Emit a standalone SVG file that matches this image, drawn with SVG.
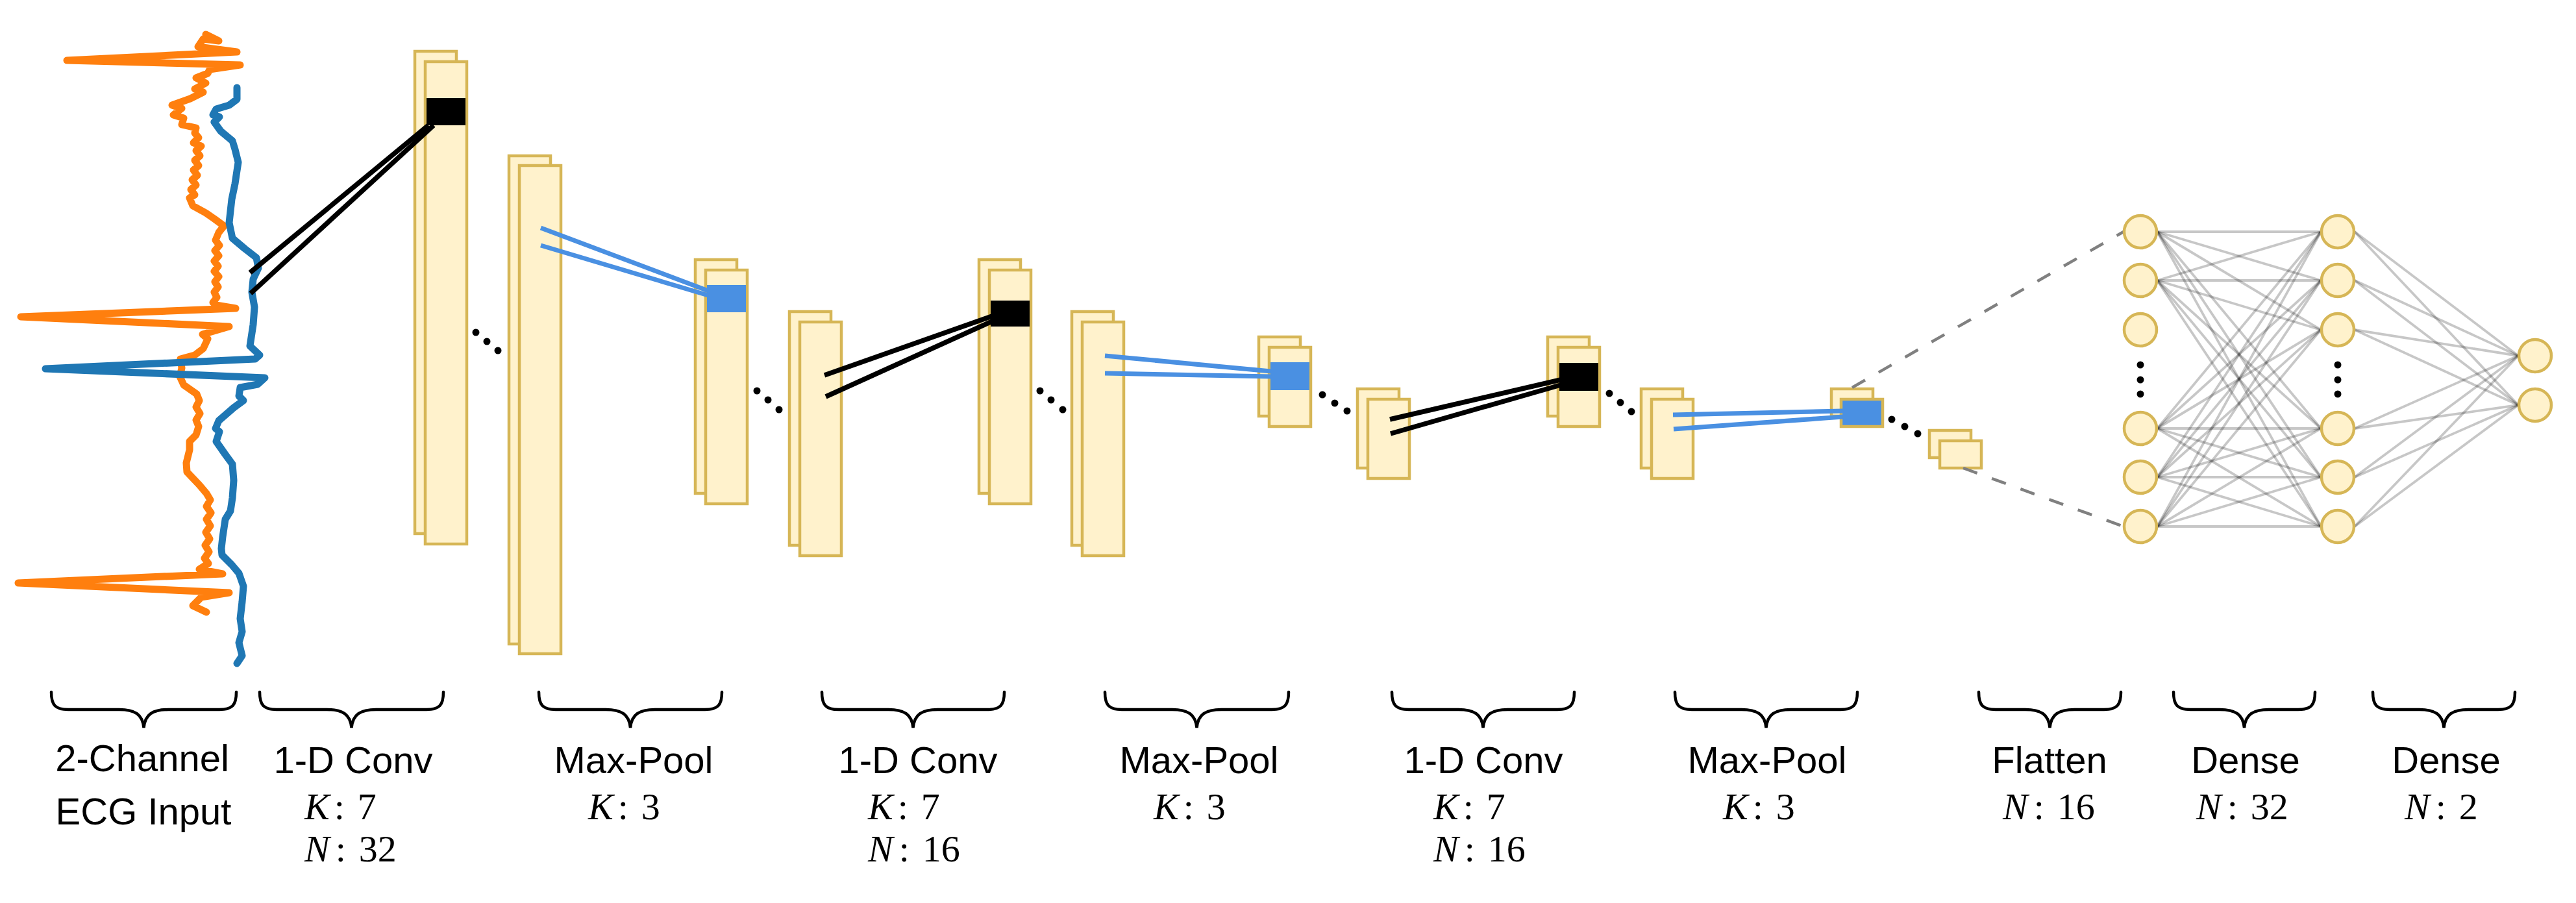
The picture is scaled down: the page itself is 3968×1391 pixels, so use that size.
<svg xmlns="http://www.w3.org/2000/svg" width="3968" height="1391" viewBox="0 0 3968 1391">
<style>
.fm{fill:#FFF2CC;stroke:#D6B656;stroke-width:4.5}
.blk{fill:#000}
.blu{fill:#4A90E2}
.fb{fill:#4A90E2;stroke:#D6B656;stroke-width:4.5}
.cb{stroke:#000;stroke-width:7.5;fill:none}
.cu{stroke:#4A90E2;stroke-width:7;fill:none}
.nn line{stroke:#000;stroke-opacity:0.22;stroke-width:3.8}
.dash{stroke:#808080;stroke-width:4.5;stroke-dasharray:23 24;fill:none}
.dot{fill:#000}
.nd{fill:#FFF2CC;stroke:#D6B656;stroke-width:4.5}
.br{fill:none;stroke:#000;stroke-width:4.5;stroke-linecap:round}
.sans{font-family:"Liberation Sans",Arial,sans-serif;font-size:58px;fill:#000}
.ser{font-family:"Liberation Serif","Times New Roman",serif;font-size:58px;fill:#000}
.it{font-style:italic}
.ecg{fill:none;stroke-width:11;stroke-linejoin:round;stroke-linecap:round}
</style>
<rect width="3968" height="1391" fill="#fff"/>
<g id="ecg-input">
<polyline class="ecg" stroke="#FF7F0E" points="317,53 337,63 313,60 305,72 365,80 103,93 370,100 323,107 320,113 302,120 317,128 300,137 313,142 293,152 265,162 280,167 267,177 283,182 280,192 302,197 300,205 306,212 298,220 310,225 302,232 308,240 300,247 306,255 298,262 304,270 296,277 302,285 294,292 300,300 292,305 297,317 317,328 330,337 345,348 337,358 332,370 338,378 331,386 337,394 330,402 336,410 330,418 337,426 331,434 336,442 330,450 334,458 328,466 333,470 363,475 32,488 353,503 312,515 320,522 313,537 300,547 278,553 280,567 277,580 283,593 303,607 307,617 302,627 308,637 302,647 306,657 302,670 292,680 292,693 287,713 288,727 307,747 318,760 324,770 318,780 325,790 318,800 324,810 317,820 323,830 316,840 322,850 315,860 321,868 307,877 343,884 28,898 353,913 310,920 297,933 318,943"/>
<polyline class="ecg" stroke="#1F77B4" points="365,135 365,153 353,162 333,168 328,177 338,180 330,188 340,202 358,217 362,230 367,250 365,263 362,283 357,307 353,343 358,367 377,383 395,397 398,413 390,430 388,450 392,473 390,500 385,533 400,547 393,553 70,568 408,582 397,592 370,597 368,610 375,617 360,628 337,648 332,660 338,665 333,680 347,700 358,715 360,740 358,767 355,787 347,800 343,827 341,845 342,855 357,870 368,883 375,903 373,927 370,953 373,973 368,990 373,1010 365,1022"/>
</g>
<g id="conv1">
<rect class="fm" x="639" y="79" width="64" height="743"/>
<rect class="fm" x="655" y="95" width="64" height="743"/>
<rect class="blk" x="657" y="151" width="60" height="42"/>
</g>
<g id="pool1">
<rect class="fm" x="784" y="240" width="64" height="752"/>
<rect class="fm" x="800" y="255" width="64" height="752"/>
</g>
<g id="pool1-out">
<rect class="fm" x="1071" y="400" width="64" height="360"/>
<rect class="fm" x="1087" y="416" width="64" height="360"/>
<rect class="blu" x="1089" y="439" width="60" height="42"/>
</g>
<g id="conv2">
<rect class="fm" x="1216" y="480" width="64" height="360"/>
<rect class="fm" x="1232" y="496" width="64" height="360"/>
</g>
<g id="conv2-out">
<rect class="fm" x="1508" y="400" width="64" height="360"/>
<rect class="fm" x="1524" y="416" width="64" height="360"/>
<rect class="blk" x="1526" y="463" width="60" height="40"/>
</g>
<g id="pool2">
<rect class="fm" x="1651" y="480" width="64" height="360"/>
<rect class="fm" x="1667" y="496" width="64" height="360"/>
</g>
<g id="pool2-out">
<rect class="fm" x="1939" y="519" width="64" height="122"/>
<rect class="fm" x="1955" y="535" width="64" height="122"/>
<rect class="blu" x="1957" y="558" width="60" height="43"/>
</g>
<g id="conv3">
<rect class="fm" x="2091" y="599" width="64" height="122"/>
<rect class="fm" x="2107" y="615" width="64" height="122"/>
</g>
<g id="conv3-out">
<rect class="fm" x="2384" y="519" width="64" height="122"/>
<rect class="fm" x="2400" y="535" width="64" height="122"/>
<rect class="blk" x="2402" y="559" width="60" height="43"/>
</g>
<g id="pool3">
<rect class="fm" x="2528" y="599" width="64" height="122"/>
<rect class="fm" x="2544" y="615" width="64" height="122"/>
</g>
<g id="pool3-out">
<rect class="fm" x="2821" y="599" width="64" height="42"/>
<rect class="fb" x="2836" y="615" width="64" height="42"/>
</g>
<g id="flatten">
<rect class="fm" x="2972" y="663" width="64" height="42"/>
<rect class="fm" x="2988" y="679" width="64" height="42"/>
</g>
<g id="ellipses">
<circle class="dot" cx="733" cy="512" r="5.5"/><circle class="dot" cx="750" cy="526" r="5.5"/><circle class="dot" cx="767" cy="540" r="5.5"/>
<circle class="dot" cx="1166" cy="602" r="5.5"/><circle class="dot" cx="1183" cy="616" r="5.5"/><circle class="dot" cx="1200" cy="631" r="5.5"/>
<circle class="dot" cx="1602" cy="602" r="5.5"/><circle class="dot" cx="1619" cy="616" r="5.5"/><circle class="dot" cx="1637" cy="631" r="5.5"/>
<circle class="dot" cx="2037" cy="608" r="5.5"/><circle class="dot" cx="2056" cy="621" r="5.5"/><circle class="dot" cx="2075" cy="633" r="5.5"/>
<circle class="dot" cx="2479" cy="606" r="5.5"/><circle class="dot" cx="2496" cy="620" r="5.5"/><circle class="dot" cx="2513" cy="634" r="5.5"/>
<circle class="dot" cx="2914" cy="646" r="5.5"/><circle class="dot" cx="2934" cy="657" r="5.5"/><circle class="dot" cx="2954" cy="668" r="5.5"/>
<circle class="dot" cx="3297" cy="562" r="5.5"/><circle class="dot" cx="3297" cy="585" r="5.5"/><circle class="dot" cx="3297" cy="607" r="5.5"/>
<circle class="dot" cx="3601" cy="562" r="5.5"/><circle class="dot" cx="3601" cy="585" r="5.5"/><circle class="dot" cx="3601" cy="607" r="5.5"/>
</g>
<g id="connectors">
<line class="cb" x1="385" y1="420" x2="660" y2="193"/>
<line class="cb" x1="386" y1="452" x2="668" y2="193"/>
<line class="cu" x1="833" y1="351" x2="1091" y2="448"/>
<line class="cu" x1="833" y1="378" x2="1091" y2="455"/>
<line class="cb" x1="1270" y1="578" x2="1528" y2="487"/>
<line class="cb" x1="1272" y1="611" x2="1528" y2="495"/>
<line class="cu" x1="1702" y1="548" x2="1958" y2="572"/>
<line class="cu" x1="1702" y1="575" x2="1958" y2="580"/>
<line class="cb" x1="2141" y1="646" x2="2404" y2="585"/>
<line class="cb" x1="2142" y1="668" x2="2404" y2="593"/>
<line class="cu" x1="2577" y1="639" x2="2839" y2="633"/>
<line class="cu" x1="2578" y1="661" x2="2839" y2="642"/>
<line class="dash" x1="2853" y1="597" x2="3271" y2="357"/>
<line class="dash" x1="3024" y1="721" x2="3271" y2="811"/>
<g class="nn">
<line x1="3323" y1="357" x2="3575" y2="357"/><line x1="3323" y1="357" x2="3575" y2="432"/><line x1="3323" y1="357" x2="3575" y2="508"/><line x1="3323" y1="357" x2="3575" y2="660"/><line x1="3323" y1="357" x2="3575" y2="735"/><line x1="3323" y1="357" x2="3575" y2="811"/>
<line x1="3323" y1="432" x2="3575" y2="357"/><line x1="3323" y1="432" x2="3575" y2="432"/><line x1="3323" y1="432" x2="3575" y2="508"/><line x1="3323" y1="432" x2="3575" y2="660"/><line x1="3323" y1="432" x2="3575" y2="735"/><line x1="3323" y1="432" x2="3575" y2="811"/>
<line x1="3323" y1="660" x2="3575" y2="357"/><line x1="3323" y1="660" x2="3575" y2="432"/><line x1="3323" y1="660" x2="3575" y2="508"/><line x1="3323" y1="660" x2="3575" y2="660"/><line x1="3323" y1="660" x2="3575" y2="735"/><line x1="3323" y1="660" x2="3575" y2="811"/>
<line x1="3323" y1="735" x2="3575" y2="357"/><line x1="3323" y1="735" x2="3575" y2="432"/><line x1="3323" y1="735" x2="3575" y2="508"/><line x1="3323" y1="735" x2="3575" y2="660"/><line x1="3323" y1="735" x2="3575" y2="735"/><line x1="3323" y1="735" x2="3575" y2="811"/>
<line x1="3323" y1="811" x2="3575" y2="357"/><line x1="3323" y1="811" x2="3575" y2="432"/><line x1="3323" y1="811" x2="3575" y2="508"/><line x1="3323" y1="811" x2="3575" y2="660"/><line x1="3323" y1="811" x2="3575" y2="735"/><line x1="3323" y1="811" x2="3575" y2="811"/>
<line x1="3627" y1="357" x2="3879" y2="548"/><line x1="3627" y1="357" x2="3879" y2="624"/>
<line x1="3627" y1="432" x2="3879" y2="548"/><line x1="3627" y1="432" x2="3879" y2="624"/>
<line x1="3627" y1="508" x2="3879" y2="548"/><line x1="3627" y1="508" x2="3879" y2="624"/>
<line x1="3627" y1="660" x2="3879" y2="548"/><line x1="3627" y1="660" x2="3879" y2="624"/>
<line x1="3627" y1="735" x2="3879" y2="548"/><line x1="3627" y1="735" x2="3879" y2="624"/>
<line x1="3627" y1="811" x2="3879" y2="548"/><line x1="3627" y1="811" x2="3879" y2="624"/>
</g>
</g>
<g id="dense1">
<circle class="nd" cx="3297" cy="357" r="25"/><circle class="nd" cx="3297" cy="432" r="25"/><circle class="nd" cx="3297" cy="508" r="25"/>
<circle class="nd" cx="3297" cy="660" r="25"/><circle class="nd" cx="3297" cy="735" r="25"/><circle class="nd" cx="3297" cy="811" r="25"/>
</g>
<g id="dense2">
<circle class="nd" cx="3601" cy="357" r="25"/><circle class="nd" cx="3601" cy="432" r="25"/><circle class="nd" cx="3601" cy="508" r="25"/>
<circle class="nd" cx="3601" cy="660" r="25"/><circle class="nd" cx="3601" cy="735" r="25"/><circle class="nd" cx="3601" cy="811" r="25"/>
</g>
<g id="output">
<circle class="nd" cx="3905" cy="548" r="25"/><circle class="nd" cx="3905" cy="624" r="25"/>
</g>
<g id="braces">
<path class="br" d="M79,1066 C79,1086 85,1093 105,1093 L183.5,1093 C207.5,1093 219.5,1100 221.5,1121 C223.5,1100 235.5,1093 259.5,1093 L338,1093 C358,1093 364,1086 364,1066"/>
<path class="br" d="M400,1066 C400,1086 406,1093 426,1093 L503.5,1093 C527.5,1093 539.5,1100 541.5,1121 C543.5,1100 555.5,1093 579.5,1093 L657,1093 C677,1093 683,1086 683,1066"/>
<path class="br" d="M830,1066 C830,1086 836,1093 856,1093 L933,1093 C957,1093 969,1100 971,1121 C973,1100 985,1093 1009,1093 L1086,1093 C1106,1093 1112,1086 1112,1066"/>
<path class="br" d="M1266,1066 C1266,1086 1272,1093 1292,1093 L1368.5,1093 C1392.5,1093 1404.5,1100 1406.5,1121 C1408.5,1100 1420.5,1093 1444.5,1093 L1521,1093 C1541,1093 1547,1086 1547,1066"/>
<path class="br" d="M1702,1066 C1702,1086 1708,1093 1728,1093 L1805.5,1093 C1829.5,1093 1841.5,1100 1843.5,1121 C1845.5,1100 1857.5,1093 1881.5,1093 L1959,1093 C1979,1093 1985,1086 1985,1066"/>
<path class="br" d="M2144,1066 C2144,1086 2150,1093 2170,1093 L2246.5,1093 C2270.5,1093 2282.5,1100 2284.5,1121 C2286.5,1100 2298.5,1093 2322.5,1093 L2399,1093 C2419,1093 2425,1086 2425,1066"/>
<path class="br" d="M2580,1066 C2580,1086 2586,1093 2606,1093 L2682.5,1093 C2706.5,1093 2718.5,1100 2720.5,1121 C2722.5,1100 2734.5,1093 2758.5,1093 L2835,1093 C2855,1093 2861,1086 2861,1066"/>
<path class="br" d="M3048,1066 C3048,1086 3054,1093 3074,1093 L3119.5,1093 C3143.5,1093 3155.5,1100 3157.5,1121 C3159.5,1100 3171.5,1093 3195.5,1093 L3241,1093 C3261,1093 3267,1086 3267,1066"/>
<path class="br" d="M3348,1066 C3348,1086 3354,1093 3374,1093 L3419,1093 C3443,1093 3455,1100 3457,1121 C3459,1100 3471,1093 3495,1093 L3540,1093 C3560,1093 3566,1086 3566,1066"/>
<path class="br" d="M3655,1066 C3655,1086 3661,1093 3681,1093 L3726.5,1093 C3750.5,1093 3762.5,1100 3764.5,1121 C3766.5,1100 3778.5,1093 3802.5,1093 L3848,1093 C3868,1093 3874,1086 3874,1066"/>
</g>
<g id="labels">
<text class="sans" x="219" y="1188" text-anchor="middle">2-Channel</text>
<text class="sans" x="221" y="1270" text-anchor="middle">ECG Input</text>
<text class="sans" x="544" y="1191" text-anchor="middle">1-D Conv</text>
<text class="ser" x="469" y="1262"><tspan class="it">K</tspan><tspan dx="7">:</tspan><tspan dx="20">7</tspan></text>
<text class="ser" x="469" y="1327"><tspan class="it">N</tspan><tspan dx="9">:</tspan><tspan dx="20">32</tspan></text>
<text class="sans" x="976" y="1191" text-anchor="middle">Max-Pool</text>
<text class="ser" x="906" y="1262"><tspan class="it">K</tspan><tspan dx="7">:</tspan><tspan dx="20">3</tspan></text>
<text class="sans" x="1414" y="1191" text-anchor="middle">1-D Conv</text>
<text class="ser" x="1337" y="1262"><tspan class="it">K</tspan><tspan dx="7">:</tspan><tspan dx="20">7</tspan></text>
<text class="ser" x="1337" y="1327"><tspan class="it">N</tspan><tspan dx="9">:</tspan><tspan dx="20">16</tspan></text>
<text class="sans" x="1847" y="1191" text-anchor="middle">Max-Pool</text>
<text class="ser" x="1777" y="1262"><tspan class="it">K</tspan><tspan dx="7">:</tspan><tspan dx="20">3</tspan></text>
<text class="sans" x="2285" y="1191" text-anchor="middle">1-D Conv</text>
<text class="ser" x="2208" y="1262"><tspan class="it">K</tspan><tspan dx="7">:</tspan><tspan dx="20">7</tspan></text>
<text class="ser" x="2208" y="1327"><tspan class="it">N</tspan><tspan dx="9">:</tspan><tspan dx="20">16</tspan></text>
<text class="sans" x="2722" y="1191" text-anchor="middle">Max-Pool</text>
<text class="ser" x="2654" y="1262"><tspan class="it">K</tspan><tspan dx="7">:</tspan><tspan dx="20">3</tspan></text>
<text class="sans" x="3157" y="1191" text-anchor="middle">Flatten</text>
<text class="ser" x="3085" y="1262"><tspan class="it">N</tspan><tspan dx="9">:</tspan><tspan dx="20">16</tspan></text>
<text class="sans" x="3459" y="1191" text-anchor="middle">Dense</text>
<text class="ser" x="3383" y="1262"><tspan class="it">N</tspan><tspan dx="9">:</tspan><tspan dx="20">32</tspan></text>
<text class="sans" x="3768" y="1191" text-anchor="middle">Dense</text>
<text class="ser" x="3704" y="1262"><tspan class="it">N</tspan><tspan dx="9">:</tspan><tspan dx="20">2</tspan></text>
</g>
</svg>
